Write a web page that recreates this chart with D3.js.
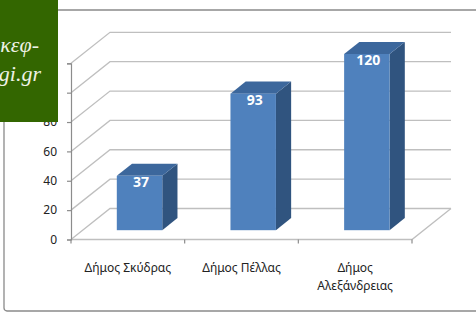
<!DOCTYPE html>
<html>
<head>
<meta charset="utf-8">
<script src="https://cdn.jsdelivr.net/npm/d3@7"></script>
<style>
  body { margin: 0; background: #fff; }
  svg { display: block; }
  .tick text { font-family: "Noto Sans", sans-serif; }
</style>
</head>
<body>
<svg id="chart" width="476" height="316"></svg>
<script>
/*    ========    DATA    =========    */

var categories = [["Δήμος Σκύδρας"], ["Δήμος Πέλλας"], ["Δήμος", "Αλεξάνδρειας"]];
var values = [37, 93, 120];
var yTicks = [0, 20, 40, 60, 80, 100, 120];
var watermark = ["κεφ-", "igi.gr"];

/*    ========    SETTINGS    =========    */

var svg = d3.select("#chart");

var plotLeft = 71, plotRight = 412;
var plotBottom = 239.5, plotTop = 63.3;
// offset of the back wall against the front plane
var depthX = 39, depthY = -31;
var barDepth = [0.3, 0.69];

var gridColor = "#bfbfbf";
var axisColor = "#8c8c8c";

var xscale = d3.scaleBand()
    .domain(d3.range(categories.length))
    .range([plotLeft, plotRight])
    .paddingInner(0.6)
    .paddingOuter(0.3);

var xband = d3.scaleBand()
    .domain(d3.range(categories.length))
    .range([plotLeft, plotRight]);

var yscale = d3.scaleLinear()
    .domain([0, 120])
    .range([plotBottom, plotTop]);

function off(t) { return [depthX * t, depthY * t]; }

/*    ========    FRAME    =========    */

svg.append("rect")
    .attr("x", 4).attr("y", 10)
    .attr("width", 490).attr("height", 301)
    .attr("rx", 3)
    .attr("fill", "none")
    .attr("stroke", "#8a8a8a")
    .attr("stroke-width", 1.3);

/*    ========    WALLS / GRID    =========    */

var grid = svg.append("g").attr("class", "grid");

// left wall diagonals + back wall lines
grid.selectAll("path.gl")
    .data(yTicks)
    .enter().append("path")
    .attr("class", "gl")
    .attr("fill", "none")
    .attr("stroke", gridColor)
    .attr("stroke-width", 1.3)
    .attr("d", function(d) {
        var y = yscale(d);
        return "M" + plotLeft + "," + y +
            "L" + (plotLeft + depthX) + "," + (y + depthY) +
            "L" + (plotRight + depthX) + "," + (y + depthY);
    });

// floor front edge and right edge
grid.append("path")
    .attr("fill", "none")
    .attr("stroke", gridColor)
    .attr("stroke-width", 1.3)
    .attr("d", "M" + plotLeft + "," + plotBottom +
        "L" + plotRight + "," + plotBottom +
        "L" + (plotRight + depthX) + "," + (plotBottom + depthY));

/*    ========    AXES    =========    */

var yAxis = d3.axisLeft(yscale)
    .tickValues(yTicks)
    .tickSize(4)
    .tickPadding(10);

var yg = svg.append("g")
    .attr("transform", "translate(" + plotLeft + ",0)")
    .call(yAxis);
yg.select(".domain").attr("stroke", axisColor).attr("stroke-width", 1.2);
yg.selectAll(".tick line").attr("stroke", axisColor).attr("stroke-width", 1.2);
yg.selectAll(".tick text")
    .attr("font-size", 12)
    .attr("fill", "#222");

// category ticks on the front floor edge
var xTickPos = [plotLeft].concat(d3.range(categories.length).map(function(i) {
    return xband(i) + xband.bandwidth();
}));
svg.selectAll("line.xt")
    .data(xTickPos)
    .enter().append("line")
    .attr("class", "xt")
    .attr("x1", function(d) { return d; })
    .attr("x2", function(d) { return d; })
    .attr("y1", plotBottom)
    .attr("y2", plotBottom + 4)
    .attr("stroke", axisColor)
    .attr("stroke-width", 1.2);

// category labels
var catLabels = svg.selectAll("text.cat")
    .data(categories)
    .enter().append("text")
    .attr("class", "cat")
    .attr("font-family", "Noto Sans, sans-serif")
    .attr("font-size", 12)
    .attr("fill", "#222")
    .attr("text-anchor", "middle")
    .attr("x", function(d, i) { return xband(i) + xband.bandwidth() / 2; })
    .attr("y", 271.5);

catLabels.selectAll("tspan")
    .data(function(d) { return d; })
    .enter().append("tspan")
    .attr("x", function() { return d3.select(this.parentNode).attr("x"); })
    .attr("dy", function(d, i) { return i === 0 ? 0 : 18; })
    .text(function(d) { return d; });

/*    ========    BARS    =========    */

var bars = svg.selectAll("g.bar")
    .data(values)
    .enter().append("g")
    .attr("class", "bar");

bars.each(function(v, i) {
    var g = d3.select(this);
    var x0 = xscale(i), x1 = xscale(i) + xscale.bandwidth();
    var yb = yscale(0), yt = yscale(v);
    var f = off(barDepth[0]), b = off(barDepth[1]);

    // side face
    g.append("path")
        .attr("fill", "#30547f")
        .attr("d", "M" + (x1 + f[0]) + "," + (yt + f[1]) +
            "L" + (x1 + b[0]) + "," + (yt + b[1]) +
            "L" + (x1 + b[0]) + "," + (yb + b[1]) +
            "L" + (x1 + f[0]) + "," + (yb + f[1]) + "Z");

    // top face
    g.append("path")
        .attr("fill", "#3c679c")
        .attr("d", "M" + (x0 + f[0]) + "," + (yt + f[1]) +
            "L" + (x0 + b[0]) + "," + (yt + b[1]) +
            "L" + (x1 + b[0]) + "," + (yt + b[1]) +
            "L" + (x1 + f[0]) + "," + (yt + f[1]) + "Z");

    // front face
    g.append("rect")
        .attr("fill", "#4f81bd")
        .attr("x", x0 + f[0])
        .attr("y", yt + f[1])
        .attr("width", x1 - x0)
        .attr("height", yb - yt);

    g.append("text")
        .attr("font-family", "Noto Sans, sans-serif")
        .attr("font-weight", "bold")
        .attr("font-size", 14)
        .attr("fill", "#fff")
        .attr("text-anchor", "middle")
        .attr("x", (x0 + x1) / 2 + f[0] + 1.5)
        .attr("y", yt + f[1] + 11)
        .text(v);
});

/*    ========    WATERMARK BOX    =========    */

svg.append("rect")
    .attr("x", 0).attr("y", 0)
    .attr("width", 58).attr("height", 122)
    .attr("fill", "#336600");

svg.selectAll("text.wm")
    .data(watermark)
    .enter().append("text")
    .attr("class", "wm")
    .attr("font-family", "Liberation Serif, serif")
    .attr("font-style", "italic")
    .attr("font-size", 22)
    .attr("fill", "#eef2e6")
    .attr("text-anchor", "end")
    .attr("x", function(d, i) { return i === 0 ? 39 : 41; })
    .attr("y", function(d, i) { return i === 0 ? 52 : 81; })
    .text(function(d) { return d; });
</script>
</body>
</html>
